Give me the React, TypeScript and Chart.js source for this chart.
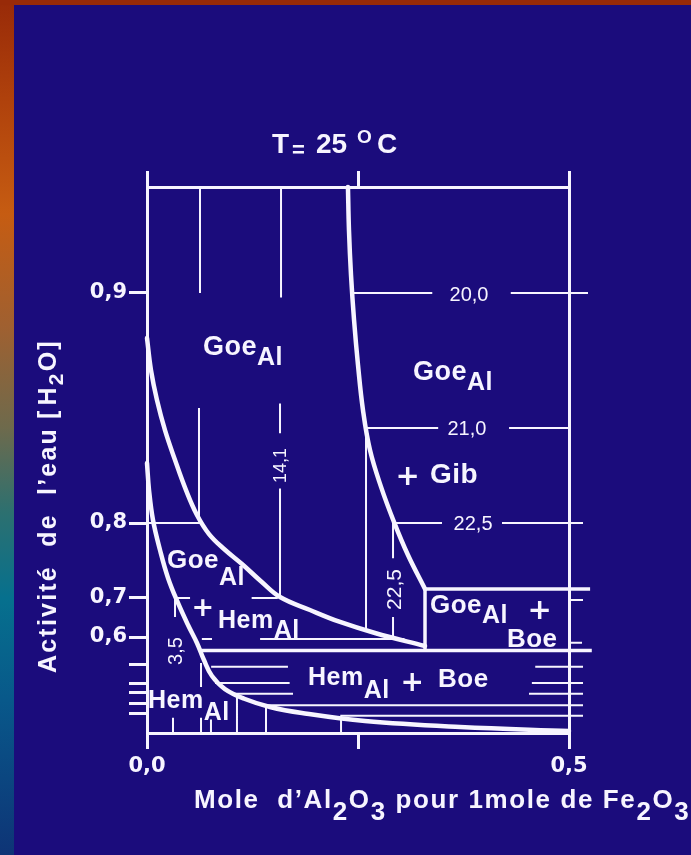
import React, { useEffect, useRef } from 'react';
import { Chart, registerables, LinearScale } from 'chart.js';

// ---------------- data ----------------
const xTickValues = [0, 0.25, 0.5];
const xTickLabels = ['0,0', '', '0,5'];
const yTickValues = [0.9, 0.8, 0.7, 0.6, 0.571, 0.552, 0.542, 0.531, 0.52];
const yTickLabels = ['0,9', '0,8', '0,7', '0,6', '', '', '', '', ''];

type P = [number, number];

// Goe / Goe+Hem boundary
const goeHemBoundary: P[] = [
  [0, 0.8804], [0.0047, 0.8665], [0.0118, 0.8535], [0.0213, 0.8404], [0.0332, 0.8274], [0.0462, 0.8143],
  [0.0592, 0.8035], [0.0735, 0.7853], [0.0913, 0.7653], [0.1125, 0.7453], [0.136, 0.7213], [0.1576, 0.7013],
  [0.1931, 0.6692], [0.2287, 0.6385], [0.2701, 0.6103], [0.3294, 0.5906],
];
// Goe+Hem / Hem boundary
const hemBoundary: P[] = [
  [0, 0.8261], [0.0024, 0.8143], [0.0071, 0.8013], [0.0154, 0.764], [0.0249, 0.7267], [0.0367, 0.6872],
  [0.0486, 0.6308], [0.0592, 0.5938], [0.0675, 0.576], [0.077, 0.5594], [0.0924, 0.5458], [0.1161, 0.5354],
  [0.1457, 0.5271], [0.1836, 0.5208], [0.2583, 0.5125], [0.3709, 0.5063], [0.5, 0.5021],
];
// Goe / Goe+Gib boundary
const gibBoundary: P[] = [
  [0.2381, 1.0], [0.2393, 0.9594], [0.2417, 0.917], [0.2453, 0.8883], [0.25, 0.8687], [0.2559, 0.8491],
  [0.2642, 0.8317], [0.2773, 0.8157], [0.2927, 0.8004], [0.3092, 0.7573], [0.3294, 0.712],
];
// straight phase boundaries
const boeBoxTop: P[] = [[0.3294, 0.712], [0.525, 0.712]];
const boeBoxSide: P[] = [[0.3294, 0.712], [0.3294, 0.586]];
const hemBoeTop: P[] = [[0.0628, 0.586], [0.527, 0.586]];

// Al-substitution contours (segments)
const contour200: P[][] = [[[0.2429, 0.9], [0.338, 0.9]], [[0.431, 0.9], [0.5225, 0.9]]];
const contour210: P[][] = [
  [[0.2595, 0.8413], [0.345, 0.8413]], [[0.429, 0.8413], [0.5, 0.8413]],
  [[0.2595, 0.8413], [0.2595, 0.618]],
];
const contour225: P[][] = [
  [[0.2915, 0.8], [0.3495, 0.8]], [[0.4206, 0.8], [0.5166, 0.8]],
  [[0.2915, 0.8], [0.2915, 0.753]], [[0.2915, 0.651], [0.2915, 0.599]],
];
const contour141: P[][] = [
  [[0.1588, 1.0], [0.1588, 0.898]], [[0.1576, 0.852], [0.1576, 0.839]], [[0.1576, 0.815], [0.1576, 0.703]],
];
const goeVertical: P[][] = [[[0.0628, 1.0], [0.0628, 0.9]], [[0.0616, 0.85], [0.0616, 0.802]]];
const goeHemLines: P[][] = [
  [[0, 0.8], [0.0628, 0.8]],
  [[0.034, 0.7], [0.051, 0.7]], [[0.124, 0.7], [0.155, 0.7]],
  [[0.065, 0.598], [0.077, 0.598]], [[0.134, 0.598], [0.305, 0.598]],
];
const hemVerticals: P[][] = [
  [[0.0332, 0.7], [0.0332, 0.651]], [[0.0308, 0.516], [0.0308, 0.5]],
  [[0.064, 0.573], [0.064, 0.548]], [[0.064, 0.516], [0.064, 0.5]],
  [[0.0758, 0.514], [0.0758, 0.5]], [[0.1066, 0.539], [0.1066, 0.5]],
  [[0.141, 0.527], [0.141, 0.5]], [[0.2299, 0.517], [0.2299, 0.5]],
];
const hemBoeLines: P[][] = [
  [[0.076, 0.569], [0.167, 0.569]], [[0.46, 0.569], [0.5166, 0.569]],
  [[0.0806, 0.552], [0.169, 0.552]], [[0.456, 0.552], [0.5166, 0.552]],
  [[0.103, 0.541], [0.173, 0.541]], [[0.4526, 0.541], [0.5166, 0.541]],
  [[0.136, 0.529], [0.5166, 0.529]],
  [[0.229, 0.518], [0.5166, 0.518]],
];
const rightTicks: P[][] = [[[0.5, 0.695], [0.5166, 0.695]], [[0.5, 0.594], [0.5154, 0.594]]];

// ---------------- piecewise water-activity scale ----------------
class PiecewiseScale extends LinearScale {
  static id = 'piecewise';
  frac(v: number): number {
    const vals = (this.options as any).breakValues as number[];
    const fr = (this.options as any).breakFractions as number[];
    let i = 0;
    while (i < vals.length - 2 && v > vals[i + 1]) i++;
    const t = (v - vals[i]) / (vals[i + 1] - vals[i]);
    return fr[i] + t * (fr[i + 1] - fr[i]);
  }
  unfrac(f: number): number {
    const vals = (this.options as any).breakValues as number[];
    const fr = (this.options as any).breakFractions as number[];
    let i = 0;
    while (i < fr.length - 2 && f > fr[i + 1]) i++;
    const t = (f - fr[i]) / (fr[i + 1] - fr[i]);
    return vals[i] + t * (vals[i + 1] - vals[i]);
  }
  getPixelForValue(value: any) {
    if (value === null || value === undefined || isNaN(value)) return NaN;
    return this.getPixelForDecimal(this.frac(+value));
  }
  getValueForPixel(pixel: number) {
    return this.unfrac(this.getDecimalForPixel(pixel));
  }
}

Chart.register(...registerables, PiecewiseScale as any);

const WHITE = '#f7f5ff';
const BLUE = '#1b0c7c';

const toPts = (a: P[]) => a.map(([x, y]) => ({ x, y }));
const joinSegs = (segs: P[][]) => {
  const out: any[] = [];
  segs.forEach((s, i) => {
    if (i > 0) out.push({ x: s[0][0], y: null });
    s.forEach(([x, y]) => out.push({ x, y }));
  });
  return out;
};

type Part = { t: string; size: number; dy?: number; family?: string; weight?: string; gap?: number };

function drawParts(ctx: CanvasRenderingContext2D, x: number, y: number, parts: Part[], spacing = 0) {
  let cx = x;
  for (const p of parts) {
    ctx.font = `${p.weight ?? 'bold'} ${p.size}px ${p.family ?? '"Liberation Sans"'}`;
    cx += p.gap ?? 0;
    for (const ch of p.t) {
      ctx.fillText(ch, cx, y + (p.dy ?? 0));
      cx += ctx.measureText(ch).width + spacing;
    }
  }
}

const PLUS = '"DejaVu Sans"';
// region labels: anchor = left end of baseline, in data coordinates
const regionLabels: { x: number; y: number; parts: Part[] }[] = [
  { x: 0.0664, y: 0.873, parts: [{ t: 'Goe', size: 27 }, { t: 'Al', size: 25, dy: 10 }] },
  { x: 0.3152, y: 0.8622, parts: [{ t: 'Goe', size: 27 }, { t: 'Al', size: 25, dy: 10 }] },
  { x: 0.2944, y: 0.8165, parts: [{ t: '+', size: 29, family: PLUS }] },
  { x: 0.3353, y: 0.8174, parts: [{ t: 'Gib', size: 28 }] },
  { x: 0.3353, y: 0.6615, parts: [{ t: 'Goe', size: 26 }, { t: 'Al', size: 25, dy: 10 }] },
  { x: 0.4508, y: 0.6462, parts: [{ t: '+', size: 29, family: PLUS }] },
  { x: 0.4265, y: 0.5896, parts: [{ t: 'Boe', size: 26 }] },
  { x: 0.0237, y: 0.74, parts: [{ t: 'Goe', size: 26 }, { t: 'Al', size: 25, dy: 17 }] },
  { x: 0.0527, y: 0.6538, parts: [{ t: '+', size: 27, family: PLUS }] },
  { x: 0.0841, y: 0.623, parts: [{ t: 'Hem', size: 25 }, { t: 'Al', size: 25, dy: 10 }] },
  { x: 0.1908, y: 0.55, parts: [{ t: 'Hem', size: 25 }, { t: 'Al', size: 25, dy: 13 }] },
  { x: 0.3004, y: 0.5438, parts: [{ t: '+', size: 28, family: PLUS }] },
  { x: 0.3448, y: 0.548, parts: [{ t: 'Boe', size: 26 }] },
  { x: 0.0012, y: 0.526, parts: [{ t: 'Hem', size: 25 }, { t: 'Al', size: 25, dy: 12 }] },
];
// contour value labels (horizontal): anchor = baseline centre
const contourLabels = [
  { x: 0.3815, y: 0.8965, t: '20,0' },
  { x: 0.3791, y: 0.8383, t: '21,0' },
  { x: 0.3863, y: 0.7907, t: '22,5' },
];
// contour value labels (rotated): anchor = centre
const rotatedLabels = [
  { x: 0.1576, y: 0.825, t: '14,1', size: 18 },
  { x: 0.2915, y: 0.7113, t: '22,5', size: 21 },
  { x: 0.0332, y: 0.5854, t: '3,5', size: 20 },
];

const backdrop = {
  id: 'backdrop',
  beforeDraw(chart: any) {
    const { ctx, width, height } = chart;
    ctx.save();
    ctx.fillStyle = BLUE;
    ctx.fillRect(0, 0, width, height);
    const g = ctx.createLinearGradient(0, 0, 0, height);
    g.addColorStop(0, '#982a08');
    g.addColorStop(0.12, '#b0420c');
    g.addColorStop(0.25, '#c65c12');
    g.addColorStop(0.38, '#a06030');
    g.addColorStop(0.5, '#6e6a4c');
    g.addColorStop(0.6, '#2c7070');
    g.addColorStop(0.7, '#06708e');
    g.addColorStop(0.82, '#08588a');
    g.addColorStop(1, '#0e3476');
    ctx.fillStyle = g;
    ctx.fillRect(0, 0, 14, height);
    ctx.fillStyle = '#982a08';
    ctx.fillRect(0, 0, width, 5);
    ctx.restore();
  },
};

const annotations = {
  id: 'annotations',
  afterDraw(chart: any) {
    const { ctx, chartArea: ca } = chart;
    const xs = chart.scales.x;
    const ys = chart.scales.y;
    ctx.save();
    ctx.fillStyle = WHITE;
    ctx.textAlign = 'left';
    ctx.textBaseline = 'alphabetic';

    for (const l of regionLabels) {
      drawParts(ctx, xs.getPixelForValue(l.x), ys.getPixelForValue(l.y), l.parts, 0.5);
    }
    ctx.textAlign = 'center';
    ctx.font = '20px "Liberation Sans"';
    for (const l of contourLabels) {
      ctx.fillText(l.t, xs.getPixelForValue(l.x), ys.getPixelForValue(l.y));
    }
    for (const l of rotatedLabels) {
      ctx.save();
      ctx.translate(xs.getPixelForValue(l.x), ys.getPixelForValue(l.y));
      ctx.rotate(-Math.PI / 2);
      ctx.font = `${l.size}px "Liberation Sans"`;
      ctx.fillText(l.t, 0, l.size * 0.36);
      ctx.restore();
    }
    ctx.textAlign = 'left';

    // title  T = 25 °C
    const tx = ca.left + 125;
    const ty = ca.top - 34;
    ctx.font = 'bold 28px "Liberation Sans"';
    ctx.fillText('T', tx, ty);
    ctx.font = 'bold 22px "Liberation Sans"';
    ctx.fillText('=', tx + 20, ty + 4);
    ctx.font = 'bold 28px "Liberation Sans"';
    ctx.fillText('25', tx + 44, ty);
    ctx.font = 'bold 19px "Liberation Sans"';
    ctx.fillText('O', tx + 85, ty - 10);
    ctx.font = 'bold 28px "Liberation Sans"';
    ctx.fillText('C', tx + 105, ty);

    // x-axis title
    const sub = 12;
    drawParts(ctx, ca.left + 47, ca.bottom + 75, [
      { t: 'Mole  d’Al', size: 26 },
      { t: '2', size: 26, dy: sub },
      { t: 'O', size: 26 },
      { t: '3', size: 26, dy: sub },
      { t: ' pour 1mole de Fe', size: 26 },
      { t: '2', size: 26, dy: sub },
      { t: 'O', size: 26 },
      { t: '3', size: 26, dy: sub },
    ], 1.6);

    // y-axis title (rotated)
    ctx.save();
    ctx.translate(ca.left - 91, ca.top + 486);
    ctx.rotate(-Math.PI / 2);
    drawParts(ctx, 0, 0, [
      { t: 'Activité  de  l’eau', size: 25 },
      { t: '[', size: 25, gap: 8 },
      { t: 'H', size: 25, gap: 3 },
      { t: '2', size: 21, dy: 7 },
      { t: 'O', size: 25 },
      { t: ']', size: 25 },
    ], 2.2);
    ctx.restore();

    ctx.restore();
  },
};

const thick = (data: P[], tension: number) => ({
  data: toPts(data),
  borderColor: WHITE,
  borderWidth: 4.5,
  tension,
  pointRadius: 0,
  clip: false as any,
  borderCapStyle: 'round',
  borderJoinStyle: 'round',
});

export default function App() {
  const ref = useRef<HTMLCanvasElement>(null);
  useEffect(() => {
    const tickFont = { family: '"DejaVu Sans"', weight: 'bold' as const, size: 21 };
    const chart = new Chart(ref.current as HTMLCanvasElement, {
      type: 'line',
      data: {
        datasets: [
          thick(goeHemBoundary, 0.4) as any,
          thick(hemBoundary, 0.4) as any,
          thick(gibBoundary, 0.4) as any,
          {
            data: joinSegs([boeBoxTop, boeBoxSide, hemBoeTop]),
            borderColor: WHITE, borderWidth: 3.5, tension: 0, pointRadius: 0, clip: false, spanGaps: false,
          } as any,
          {
            data: joinSegs([
              ...contour200, ...contour210, ...contour225, ...contour141, ...goeVertical,
              ...goeHemLines, ...hemVerticals, ...hemBoeLines, ...rightTicks,
            ]),
            borderColor: WHITE, borderWidth: 2, tension: 0, pointRadius: 0, clip: false, spanGaps: false,
          } as any,
        ],
      },
      options: {
        animation: false,
        responsive: false,
        devicePixelRatio: 1,
        layout: { padding: { left: 87, right: 122, top: 171, bottom: 62 } },
        plugins: { legend: { display: false }, tooltip: { enabled: false }, title: { display: false } },
        scales: {
          x: {
            type: 'linear', position: 'bottom', min: 0, max: 0.5,
            afterBuildTicks: (s: any) => { s.ticks = xTickValues.map((v) => ({ value: v })); },
            afterFit: (s: any) => { s.height = 60; },
            ticks: {
              autoSkip: false, maxRotation: 0, color: WHITE, font: tickFont, padding: 5,
              callback: (_v: any, i: number) => xTickLabels[i],
            },
            grid: { drawOnChartArea: false, drawTicks: true, tickLength: 16, color: WHITE, lineWidth: 3 },
            border: { display: true, color: WHITE, width: 3 },
          },
          x2: {
            type: 'linear', axis: 'x', position: 'top', min: 0, max: 0.5,
            afterBuildTicks: (s: any) => { s.ticks = xTickValues.map((v) => ({ value: v })); },
            afterFit: (s: any) => { s.height = 16; },
            ticks: { display: false },
            grid: { drawOnChartArea: false, drawTicks: true, tickLength: 16, color: WHITE, lineWidth: 3 },
            border: { display: true, color: WHITE, width: 3 },
          },
          y: {
            type: 'piecewise' as any, position: 'left', min: 0.5, max: 1.0,
            breakValues: [0.5, 0.6, 0.7, 0.8, 0.9, 1.0],
            breakFractions: [0, 0.1758, 0.2473, 0.3846, 0.8059, 1],
            afterBuildTicks: (s: any) => { s.ticks = yTickValues.map((v) => ({ value: v })); },
            afterFit: (s: any) => { s.width = 60; },
            ticks: {
              autoSkip: false, color: WHITE, font: tickFont, padding: 2,
              callback: (_v: any, i: number) => yTickLabels[i],
            },
            grid: { drawOnChartArea: false, drawTicks: true, tickLength: 18, color: WHITE, lineWidth: 3 },
            border: { display: true, color: WHITE, width: 3 },
          } as any,
          y2: {
            type: 'linear', axis: 'y', position: 'right', min: 0, max: 1,
            afterFit: (s: any) => { s.width = 0; },
            ticks: { display: false },
            grid: { drawOnChartArea: false, drawTicks: false },
            border: { display: true, color: WHITE, width: 3 },
          },
        },
      } as any,
      plugins: [backdrop, annotations],
    });
    return () => chart.destroy();
  }, []);
  return (
    <div style={{ position: 'absolute', left: 0, top: 0, width: 691, height: 855, background: BLUE }}>
      <canvas ref={ref} width={691} height={855} style={{ display: 'block', width: 691, height: 855 }} />
    </div>
  );
}
